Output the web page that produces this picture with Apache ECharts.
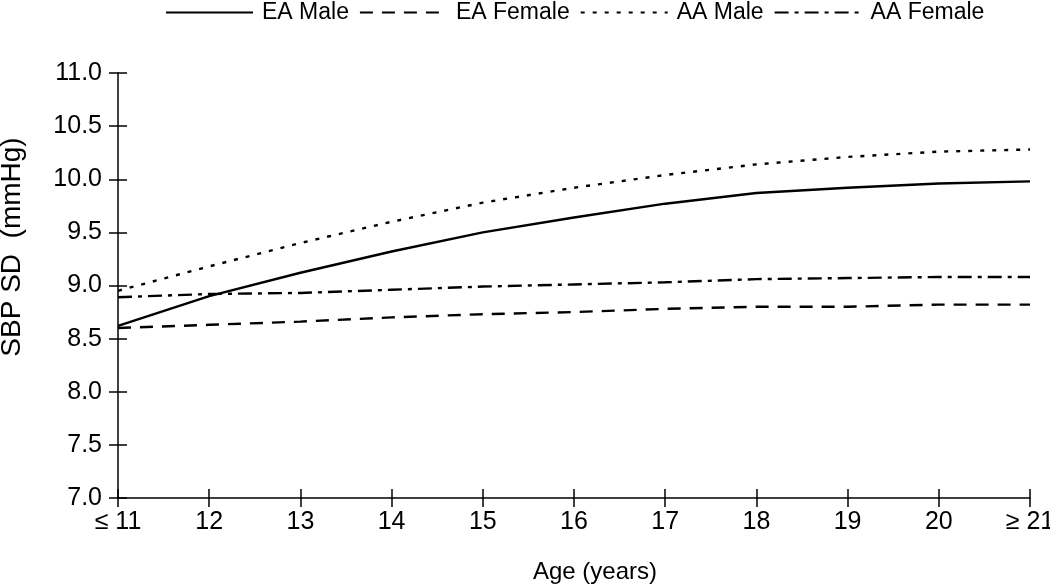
<!DOCTYPE html>
<html>
<head>
<meta charset="utf-8">
<script src="https://cdn.jsdelivr.net/npm/echarts@6/dist/echarts.min.js"></script>
<style>html,body{margin:0;padding:0;background:#fff}#c{width:1050px;height:586px}</style>
</head>
<body>
<div id="c"></div>
<script>
const ages = ['≤ 11','12','13','14','15','16','17','18','19','20','≥ 21'];
const eaMale   = [8.62, 8.90, 9.12, 9.32, 9.50, 9.64, 9.77, 9.87, 9.92, 9.96, 9.98];
const eaFemale = [8.60, 8.63, 8.66, 8.70, 8.73, 8.75, 8.78, 8.80, 8.80, 8.82, 8.82];
const aaMale   = [8.95, 9.18, 9.40, 9.60, 9.78, 9.92, 10.04, 10.14, 10.21, 10.26, 10.28];
const aaFemale = [8.89, 8.92, 8.93, 8.96, 8.99, 9.01, 9.03, 9.06, 9.07, 9.08, 9.08];
const yTicks = {min: 7, max: 11, interval: 0.5};

const chart = echarts.init(document.getElementById('c'), null, {renderer: 'canvas'});
const F = 'Liberation Sans, Arial, sans-serif';
function ser(name, data, type) {
  return {name, type: 'line', data, symbol: 'none', showSymbol: false, smooth: false,
    xAxisIndex: 0, yAxisIndex: 0,
    lineStyle: {color: '#000', width: 2.4, type: type}, itemStyle: {color: '#000'}};
}
chart.setOption({
  animation: false,
  grid: {left: 118, right: 20, top: 73, bottom: 88, containLabel: false, outerBoundsMode: 'none'},
  legend: {
    top: -4, left: 160, itemGap: 10, itemWidth: 87, itemHeight: 14,
    itemStyle: {opacity: 0},
    textStyle: {fontFamily: F, fontSize: 23, color: '#000', padding: [0,0,0,4]},
    data: ['EA Male','EA Female','AA Male','AA Female']
  },
  xAxis: [{
    type: 'category', data: ages, boundaryGap: false,
    axisLine: {lineStyle: {color: '#000', width: 1.5}},
    axisTick: {length: 9, lineStyle: {color: '#000', width: 1.5}, alignWithLabel: true},
    axisLabel: {color: '#000', fontFamily: 'Liberation Sans Narrow, ' + F, fontSize: 25, margin: 12}
  }, {
    type: 'category', data: ages, boundaryGap: false, position: 'bottom',
    axisLine: {show: false}, axisLabel: {show: false},
    axisTick: {inside: true, length: 9, lineStyle: {color: '#000', width: 1.5}}
  }],
  yAxis: [{
    type: 'value', min: yTicks.min, max: yTicks.max, interval: yTicks.interval,
    splitLine: {show: false},
    axisLine: {show: true, lineStyle: {color: '#000', width: 1.5}},
    axisTick: {show: true, length: 9, lineStyle: {color: '#000', width: 1.5}},
    axisLabel: {color: '#000', fontFamily: F, fontSize: 25, margin: 16,
      formatter: v => v.toFixed(1)}
  }, {
    type: 'value', min: yTicks.min, max: yTicks.max, interval: yTicks.interval,
    position: 'left', splitLine: {show: false},
    axisLine: {show: false}, axisLabel: {show: false},
    axisTick: {show: true, inside: true, length: 9, lineStyle: {color: '#000', width: 1.5}}
  }],
  graphic: [
    {type: 'text', x: 12, y: 247, rotation: Math.PI / 2,
      style: {text: 'SBP SD  (mmHg)', font: '28px ' + F, fill: '#000', align: 'center', verticalAlign: 'middle'}},
    {type: 'text', x: 595, y: 572,
      style: {text: 'Age (years)', font: '24px ' + F, fill: '#000', align: 'center', verticalAlign: 'middle'}}
  ],
  series: [
    ser('EA Male', eaMale, 'solid'),
    ser('EA Female', eaFemale, [13, 9]),
    ser('AA Male', aaMale, [4, 8]),
    ser('AA Female', aaFemale, [14, 6, 4, 6])
  ]
});
</script>
</body>
</html>
